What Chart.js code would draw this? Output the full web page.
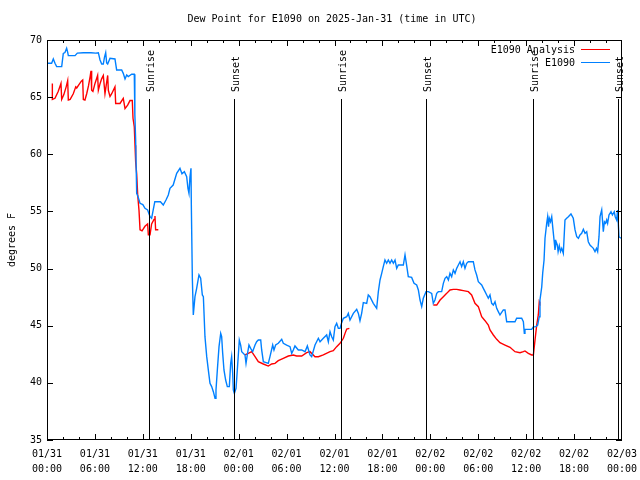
<!DOCTYPE html>
<html lang="en">
<head>
    <meta charset="UTF-8">
    <title>Dew Point for E1090</title>
    <script src="https://cdn.jsdelivr.net/npm/chart.js@4.4.1/dist/chart.umd.min.js"></script>
    <style>
        html, body { margin: 0; padding: 0; background: #fff; }
        #wrap { width: 640px; height: 480px; }
    </style>
</head>
<body>
    <div id="wrap"><canvas id="dewChart" width="640" height="480"></canvas></div>

    <script>
        // Hours since 2025-01-31 00:00 UTC
        const blueHours = [0.08,0.58,0.79,1.0,1.21,1.84,2.04,2.25,2.46,2.6,2.67,3.51,3.8,4.55,5.5,6.1,6.43,6.64,6.85,7.05,7.2,7.35,7.47,7.6,7.89,8.51,8.72,9.35,9.55,9.77,9.98,10.18,10.6,10.93,11.0,11.1,11.23,11.4,11.65,12.0,12.27,12.6,12.9,13.1,13.3,13.5,13.9,14.2,14.56,14.9,15.19,15.4,15.8,16.24,16.65,16.9,17.2,17.49,17.65,17.78,17.9,18.03,18.07,18.2,18.32,18.53,18.74,19.03,19.24,19.45,19.58,19.78,20.0,20.2,20.41,20.62,20.83,21.04,21.16,21.33,21.54,21.75,21.87,22.0,22.16,22.37,22.58,22.83,23.0,23.12,23.25,23.33,23.46,23.67,23.83,24.0,24.08,24.25,24.38,24.79,24.92,25.08,25.29,25.5,25.75,26.05,26.25,26.46,26.76,26.88,27.09,27.71,27.92,28.26,28.42,28.63,28.96,29.39,29.59,30.01,30.43,30.64,30.84,31.05,31.47,31.89,32.31,32.6,32.93,33.14,33.56,33.98,34.19,34.6,35.02,35.23,35.44,35.65,35.85,36.06,36.27,36.48,36.69,36.9,37.11,37.53,37.73,37.94,38.36,38.78,38.99,39.19,39.4,39.61,40.03,40.23,40.44,40.86,41.28,41.49,41.7,41.91,42.11,42.32,42.53,42.74,42.95,43.16,43.37,43.58,43.79,43.99,44.2,44.62,44.83,45.03,45.24,45.66,45.96,46.29,46.5,46.71,46.92,47.12,47.46,47.75,48.17,48.37,48.58,48.8,49.0,49.42,49.63,49.84,50.05,50.26,50.46,50.67,50.88,51.09,51.3,51.51,51.72,51.92,52.13,52.34,52.55,52.76,53.38,53.59,53.8,54.01,54.43,54.64,54.85,55.06,55.26,55.47,55.68,55.89,56.1,56.31,56.51,56.72,57.14,57.35,57.56,57.98,58.6,58.81,59.44,59.65,59.77,59.85,60.27,60.69,60.9,61.23,61.44,61.64,61.73,61.95,62.07,62.24,62.36,62.57,62.69,62.8,62.9,63.05,63.2,63.32,63.49,63.61,63.75,63.9,64.0,64.15,64.3,64.45,64.65,64.86,65.07,65.28,65.61,65.9,66.12,66.33,66.54,66.74,66.95,67.16,67.37,67.58,67.78,67.99,68.2,68.41,68.62,68.8,68.95,69.12,69.25,69.46,69.66,69.8,69.95,70.08,70.2,70.37,70.62,70.8,71.03,71.15,71.33,71.45,71.62,71.87];
        const blueValues = [67.96,67.96,68.34,67.96,67.67,67.67,68.83,68.9,69.27,68.9,68.63,68.63,68.85,68.89,68.89,68.85,68.89,68.25,67.9,67.9,68.5,68.89,68.0,67.9,68.4,68.34,67.38,67.38,67.08,66.59,66.94,66.8,67.0,67.0,63.5,61.25,56.58,56.29,55.71,55.6,55.27,55.13,54.54,54.4,55.13,55.85,55.85,55.85,55.56,56.0,56.44,57.02,57.31,58.33,58.77,58.3,58.48,58.04,57.02,56.58,58.0,58.77,55.71,49.15,45.94,47.54,48.27,49.44,49.15,47.69,47.54,44.04,42.29,41.13,39.96,39.67,39.23,38.65,39.38,41.13,43.17,44.33,44.04,42.58,41.13,40.25,39.67,39.67,41.71,42.29,40.83,39.38,39.08,39.52,41.13,42.88,43.75,43.31,42.73,42.44,41.71,42.44,43.31,43.02,42.73,43.31,43.6,43.75,43.75,42.88,41.85,41.71,42.29,43.31,42.88,43.31,43.46,43.81,43.46,43.31,43.17,42.58,42.88,43.23,42.88,42.88,42.73,43.23,42.44,42.29,43.31,43.9,43.6,43.9,44.19,43.6,44.48,44.04,43.75,44.92,45.21,44.77,44.77,45.27,45.65,45.79,46.08,45.5,46.08,46.43,46.08,45.44,46.08,47.02,46.96,47.69,47.54,46.96,46.52,47.98,49.0,49.58,50.17,50.75,50.46,50.75,50.46,50.75,50.46,50.75,50.02,50.31,50.31,50.31,51.19,50.31,49.29,49.23,48.71,48.56,48.13,47.25,46.67,47.4,47.98,47.98,47.83,46.96,47.25,47.83,47.98,47.98,48.71,49.15,49.29,49.0,49.58,49.29,49.88,49.58,50.02,50.31,50.6,50.17,50.6,50.02,50.46,50.6,50.6,49.88,49.44,48.85,48.56,48.27,47.98,47.69,47.4,47.69,46.96,46.81,47.1,46.52,46.23,45.94,46.38,46.38,45.35,45.35,45.35,45.65,45.65,45.35,44.33,44.68,44.68,44.68,44.9,44.92,45.06,45.79,47.25,48.4,49.6,50.75,52.65,53.96,54.54,53.67,54.4,54.1,54.54,53.67,52.5,51.63,52.35,52.06,51.48,52.0,51.5,51.77,51.33,54.25,54.4,54.54,54.78,54.4,53.38,52.79,52.65,52.94,53.08,53.44,53.08,53.23,52.35,52.06,51.92,51.77,51.48,51.77,51.48,52.79,54.54,55.13,53.23,54.1,53.96,54.25,53.96,54.69,54.98,54.69,54.98,54.54,54.25,55.13,52.79,52.65];

        // null marks a gap in the analysis series
        const redHours = [0.67,0.67,1.0,1.4,1.75,1.84,2.1,2.4,2.59,2.67,2.9,3.29,3.6,3.72,4.0,4.3,4.47,4.55,4.75,4.97,5.2,5.4,5.51,5.59,5.75,6.01,6.34,6.43,6.65,6.84,7.05,7.26,7.45,7.6,7.68,7.89,8.1,8.51,8.6,9.14,9.55,9.77,10.1,10.39,10.68,10.77,10.93,11.02,11.1,11.23,11.36,11.52,11.65,11.9,12.27,12.6,12.69,12.9,13.1,13.4,13.52,13.6,13.94,
            14.2,
            24.79,25.21,25.63,26.05,26.46,27.09,27.71,28.13,28.55,28.96,29.59,30.22,30.84,31.26,31.89,32.52,32.93,33.56,33.98,34.6,35.44,35.85,36.27,36.69,37.11,37.32,37.53,37.86,
            38.5,
            48.37,48.8,49.22,49.63,50.05,50.46,50.88,51.3,51.72,52.13,52.76,53.17,53.59,54.01,54.43,54.85,55.26,55.47,55.89,56.31,56.72,57.35,57.98,58.6,59.23,59.65,59.85,60.27,60.69,60.9,61.11,61.32,61.52,61.64,61.7];
        const redValues = [66.2,64.8,64.9,65.5,66.2,64.8,65.2,65.9,66.45,64.75,64.8,65.3,65.9,65.8,66.1,66.4,66.5,64.8,64.75,65.3,66.0,66.8,67.3,65.6,65.5,66.2,66.9,65.6,66.2,66.6,66.9,65.3,66.2,66.9,65.6,65.05,65.3,65.9,64.45,64.45,64.9,64.0,64.3,64.7,64.7,63.15,62.4,60.8,59.35,58.3,56.4,55.1,53.4,53.3,53.7,53.9,52.95,52.95,53.9,54.3,54.6,53.4,53.4,
            null,
            42.44,42.58,42.73,42.29,41.85,41.65,41.47,41.65,41.71,41.94,42.15,42.35,42.44,42.35,42.35,42.64,42.73,42.29,42.29,42.44,42.73,42.82,43.17,43.46,43.9,44.33,44.71,44.77,
            null,
            46.81,46.81,47.25,47.54,47.83,48.13,48.18,48.18,48.13,48.07,47.98,47.69,46.96,46.67,45.79,45.44,45.06,44.63,44.19,43.81,43.52,43.31,43.11,42.73,42.64,42.73,42.79,42.58,42.44,42.44,43.75,45.06,45.94,47.1,47.0];

        const tickLabels = [
            ['01/31', '00:00'], ['01/31', '06:00'], ['01/31', '12:00'], ['01/31', '18:00'],
            ['02/01', '00:00'], ['02/01', '06:00'], ['02/01', '12:00'], ['02/01', '18:00'],
            ['02/02', '00:00'], ['02/02', '06:00'], ['02/02', '12:00'], ['02/02', '18:00'],
            ['02/03', '00:00']
        ];
        const yTicks = [35, 40, 45, 50, 55, 60, 65, 70];

        const sunHours = [12.81, 23.45, 36.85, 47.46, 60.8, 71.53];
        const sunLabels = ['Sunrise', 'Sunset', 'Sunrise', 'Sunset', 'Sunrise', 'Sunset'];

        const FONT = '"DejaVu Sans Mono", "Liberation Mono", monospace';
        const RED = '#ff0000';
        const BLUE = '#0080ff';

        function toPoints(xs, ys) {
            return xs.map((x, i) => ({ x: x, y: ys[i] }));
        }

        // gnuplot-ish frame: border, inward ticks, sun markers, legend, title
        const gnuplotFrame = {
            id: 'gnuplotFrame',
            afterDatasetsDraw(chart) {
                const ctx = chart.ctx;
                const xs = chart.scales.x;
                const ys = chart.scales.y;
                const a = chart.chartArea;

                ctx.save();
                ctx.strokeStyle = '#000';
                ctx.fillStyle = '#000';
                ctx.lineWidth = 1;

                // sunrise / sunset lines
                ctx.font = '10px ' + FONT;
                sunHours.forEach((h, i) => {
                    const px = Math.round(xs.getPixelForValue(h)) + 0.5;
                    ctx.beginPath();
                    ctx.moveTo(px, 99);
                    ctx.lineTo(px, a.bottom);
                    ctx.stroke();
                    ctx.save();
                    ctx.translate(px + 2, 92);
                    ctx.rotate(-Math.PI / 2);
                    ctx.textAlign = 'left';
                    ctx.textBaseline = 'middle';
                    ctx.fillText(sunLabels[i], 0, 0);
                    ctx.restore();
                });

                // border
                ctx.strokeRect(Math.round(a.left) + 0.5, Math.round(a.top) + 0.5,
                    Math.round(a.right - a.left) - 1, Math.round(a.bottom - a.top) - 1);

                // x ticks every 2 h, longer every 6 h
                ctx.beginPath();
                for (let h = 2; h < 72; h += 2) {
                    const px = Math.round(xs.getPixelForValue(h)) + 0.5;
                    const len = h % 6 === 0 ? 6 : 3;
                    ctx.moveTo(px, a.bottom); ctx.lineTo(px, a.bottom - len);
                    ctx.moveTo(px, a.top); ctx.lineTo(px, a.top + len);
                }
                // y ticks
                yTicks.forEach(v => {
                    const py = Math.round(ys.getPixelForValue(v)) + 0.5;
                    ctx.moveTo(a.left, py); ctx.lineTo(a.left + 6, py);
                    ctx.moveTo(a.right, py); ctx.lineTo(a.right - 6, py);
                });
                ctx.stroke();

                // legend (text then line sample)
                ctx.textAlign = 'right';
                ctx.textBaseline = 'middle';
                chart.data.datasets.forEach((ds, i) => {
                    const ly = 50 + i * 13;
                    ctx.fillStyle = '#000';
                    ctx.fillText(ds.label, 575, ly);
                    ctx.strokeStyle = ds.borderColor;
                    ctx.beginPath();
                    ctx.moveTo(581, ly - 0.5);
                    ctx.lineTo(610, ly - 0.5);
                    ctx.stroke();
                });

                // title
                ctx.fillStyle = '#000';
                ctx.textAlign = 'center';
                ctx.fillText('Dew Point for E1090 on 2025-Jan-31 (time in UTC)', 332, 19);
                ctx.restore();
            }
        };

        new Chart(document.getElementById('dewChart'), {
            type: 'line',
            data: {
                datasets: [
                    {
                        label: 'E1090 Analysis',
                        data: toPoints(redHours, redValues),
                        borderColor: RED,
                        borderWidth: 1.4,
                        pointRadius: 0,
                        spanGaps: false,
                        tension: 0,
                        order: 1
                    },
                    {
                        label: 'E1090',
                        data: toPoints(blueHours, blueValues),
                        borderColor: BLUE,
                        borderWidth: 1.4,
                        pointRadius: 0,
                        tension: 0,
                        order: 0
                    }
                ]
            },
            options: {
                responsive: false,
                animation: false,
                layout: { padding: { top: 40, right: 18, left: 0, bottom: 0 } },
                plugins: {
                    legend: { display: false },
                    title: { display: false },
                    tooltip: { enabled: false }
                },
                scales: {
                    x: {
                        type: 'linear',
                        min: 0,
                        max: 72,
                        grid: { display: false, drawTicks: false },
                        border: { display: false },
                        ticks: {
                            stepSize: 6,
                            autoSkip: false,
                            maxRotation: 0,
                            padding: 7,
                            color: '#000',
                            font: { family: FONT, size: 10, lineHeight: 1.5 },
                            callback: v => tickLabels[Math.round(v / 6)]
                        },
                        afterFit: s => { s.height = 40; s.paddingLeft = 0; s.paddingRight = 0; }
                    },
                    y: {
                        min: 35,
                        max: 70,
                        grid: { display: false, drawTicks: false },
                        border: { display: false },
                        ticks: {
                            stepSize: 5,
                            padding: 5,
                            color: '#000',
                            font: { family: FONT, size: 10 }
                        },
                        title: {
                            display: true,
                            text: 'degrees F',
                            color: '#000',
                            padding: { top: 6, bottom: 0 },
                            font: { family: FONT, size: 10 }
                        },
                        afterFit: s => { s.width = 47; s.paddingTop = 0; s.paddingBottom = 0; }
                    }
                }
            },
            plugins: [gnuplotFrame]
        });
    </script>
</body>
</html>
